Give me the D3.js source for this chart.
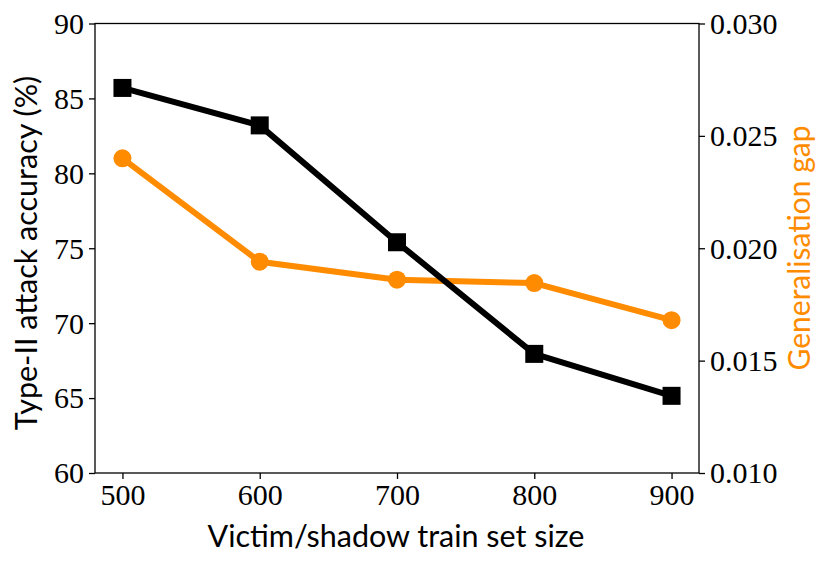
<!DOCTYPE html>
<html>
<head>
<meta charset="utf-8">
<script src="https://cdn.jsdelivr.net/npm/d3@7"></script>
<style>
  body { margin: 0; background: #fff; }
  .tick text { font-family: "Liberation Serif", "DejaVu Serif", serif; }
</style>
</head>
<body>
<div id="chart"></div>
<script>
/* Type-II attack accuracy vs generalisation gap */

const sizes = [500, 600, 700, 800, 900];
const accuracy = [85.7, 83.2, 75.4, 67.95, 65.15];   // left axis, %
const genGap = [0.0240, 0.0194, 0.0186, 0.01845, 0.0168]; // right axis

const xTicks = [500, 600, 700, 800, 900];
const yLeftTicks = [60, 65, 70, 75, 80, 85, 90];
const yRightTicks = [0.010, 0.015, 0.020, 0.025, 0.030];

const width = 831,
    height = 568,
    margin = ({top: 23.5, right: 132, bottom: 95, left: 95});

const orange = "#ff8c00";
const labelFont = "Lato, 'Liberation Sans', sans-serif";

let svg = d3.select("#chart")
    .append("svg")
    .attr("width", width)
    .attr("height", height);

const x = d3.scaleLinear()
    .domain([480, 920])
    .range([margin.left, width - margin.right]);

const yL = d3.scaleLinear()
    .domain([60, 90])
    .range([height - margin.bottom, margin.top]);

const yR = d3.scaleLinear()
    .domain([0.010, 0.030])
    .range([height - margin.bottom, margin.top]);

const styleAxis = g => {
    g.selectAll("line").attr("stroke", "#000").attr("stroke-width", 1.3);
    g.selectAll("text").attr("fill", "#000").attr("font-size", 30);
    g.select(".domain").remove();
};

svg.append("g")
    .attr("transform", `translate(0,${height - margin.bottom})`)
    .call(d3.axisBottom(x).tickValues(xTicks).tickSize(6).tickPadding(5))
    .call(styleAxis);

svg.append("g")
    .attr("transform", `translate(${margin.left},0)`)
    .call(d3.axisLeft(yL).tickValues(yLeftTicks).tickSize(6).tickPadding(5))
    .call(styleAxis)
    .call(g => g.selectAll("text").attr("dy", "0.33em"));

svg.append("g")
    .attr("transform", `translate(${width - margin.right},0)`)
    .call(d3.axisRight(yR).tickValues(yRightTicks).tickFormat(d3.format(".3f")).tickSize(6).tickPadding(5))
    .call(styleAxis)
    .call(g => g.selectAll("text").attr("dy", "0.33em"));

// frame
svg.append("rect")
    .attr("x", margin.left)
    .attr("y", margin.top)
    .attr("width", width - margin.right - margin.left)
    .attr("height", height - margin.bottom - margin.top)
    .attr("fill", "none")
    .attr("stroke", "#000")
    .attr("stroke-width", 1.3);

// orange series (generalisation gap)
const lineR = d3.line().x((d, i) => x(sizes[i])).y(d => yR(d));
svg.append("path")
    .datum(genGap)
    .attr("d", lineR)
    .attr("fill", "none")
    .attr("stroke", orange)
    .attr("stroke-width", 6)
    .attr("stroke-linejoin", "round");

svg.selectAll(".dot")
    .data(genGap)
    .join("circle")
    .attr("class", "dot")
    .attr("cx", (d, i) => x(sizes[i]))
    .attr("cy", d => yR(d))
    .attr("r", 9)
    .attr("fill", orange);

// black series (attack accuracy)
const lineL = d3.line().x((d, i) => x(sizes[i])).y(d => yL(d));
svg.append("path")
    .datum(accuracy)
    .attr("d", lineL)
    .attr("fill", "none")
    .attr("stroke", "#000")
    .attr("stroke-width", 6)
    .attr("stroke-linejoin", "round");

svg.selectAll(".sq")
    .data(accuracy)
    .join("rect")
    .attr("class", "sq")
    .attr("x", (d, i) => x(sizes[i]) - 9)
    .attr("y", d => yL(d) - 9)
    .attr("width", 18)
    .attr("height", 18)
    .attr("fill", "#000");

// axis labels
svg.append("text")
    .attr("x", 396)
    .attr("y", 547)
    .attr("text-anchor", "middle")
    .attr("font-family", labelFont)
    .attr("font-size", 30.5)
    .text("Victim/shadow train set size");

svg.append("text")
    .attr("transform", `translate(37,253) rotate(-90)`)
    .attr("text-anchor", "middle")
    .attr("font-family", labelFont)
    .attr("font-size", 30.5)
    .text("Type-II attack accuracy (%)");

svg.append("text")
    .attr("transform", `translate(810,248) rotate(-90)`)
    .attr("text-anchor", "middle")
    .attr("font-family", labelFont)
    .attr("font-size", 30)
    .attr("fill", orange)
    .text("Generalisation gap");
</script>
</body>
</html>
